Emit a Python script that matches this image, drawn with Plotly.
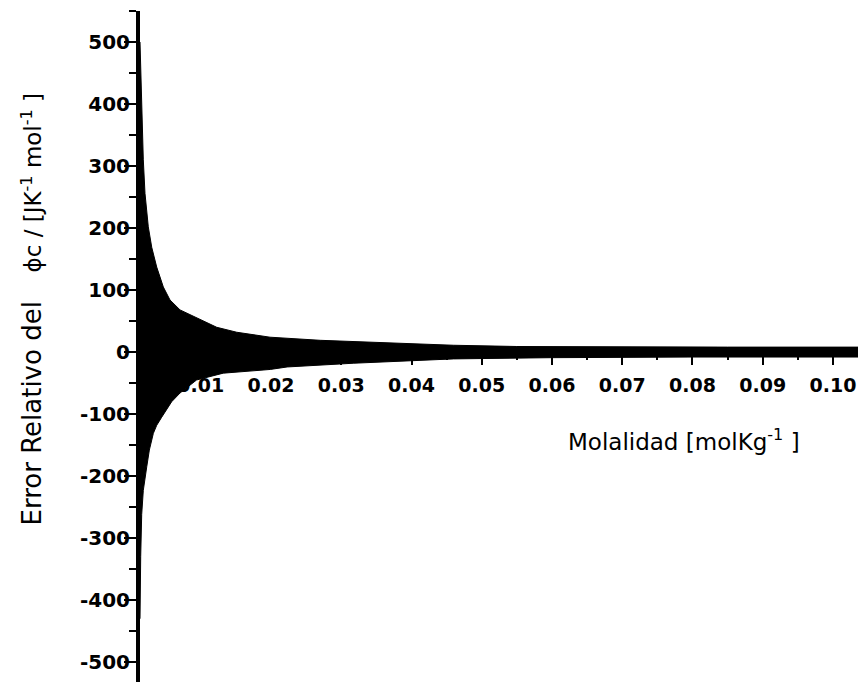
import plotly.graph_objects as go

# Upper envelope of the relative error band
upper_x = [0.00135, 0.00150, 0.00159, 0.00170, 0.00182, 0.00206, 0.00253, 0.00302, 0.00373, 0.00467,
           0.00562, 0.00705, 0.00942, 0.01227, 0.01512, 0.01986, 0.0270, 0.0365, 0.0460, 0.0550,
           0.0700, 0.0850, 0.1050]
upper_y = [500, 440, 400, 350, 310, 256, 202, 169, 137, 105,
           84, 68, 55, 40, 32, 24, 19, 14.5, 11, 9,
           8, 8, 8]

# Lower envelope
lower_x = [0.00135, 0.00145, 0.00159, 0.00182, 0.00231, 0.00268, 0.00325, 0.00373, 0.00444, 0.00586,
           0.00705, 0.0094, 0.0132, 0.0199, 0.0223, 0.0317, 0.0460, 0.0600, 0.0800, 0.1050]
lower_y = [-430, -330, -262, -223, -185, -158, -131, -118, -105, -80,
           -66, -45, -34, -28, -24, -18, -11, -9, -8, -8]

x_tick_vals = [0.01, 0.02, 0.03, 0.04, 0.05, 0.06, 0.07, 0.08, 0.09, 0.10]
x_tick_text = ["0.01", "0.02", "0.03", "0.04", "0.05", "0.06", "0.07", "0.08", "0.09", "0.10"]
y_tick_vals = [-500, -400, -300, -200, -100, 0, 100, 200, 300, 400, 500]
y_tick_text = ["-500", "-400", "-300", "-200", "-100", "0", "100", "200", "300", "400", "500"]

poly_x = upper_x + lower_x[::-1]
poly_y = upper_y + lower_y[::-1]

FONT = "DejaVu Sans"
W, H = 858, 674          # page adds an 8px body margin
L, T = 132, 3
PW, PH = W - L, H - T

fig = go.Figure()
fig.add_trace(go.Scatter(
    x=poly_x, y=poly_y, mode="lines", fill="toself",
    fillcolor="black", line=dict(color="black", width=1),
    hoverinfo="skip", showlegend=False,
))

Y0, Y1 = -532, 550
fig.update_layout(
    width=W, height=H,
    margin=dict(l=L, r=0, t=T, b=0, pad=0),
    paper_bgcolor="white", plot_bgcolor="white",
    showlegend=False,
    xaxis=dict(
        range=[0.00135, 0.1047],
        anchor="free", position=(0 - Y0) / (Y1 - Y0),
        showline=True, linecolor="black", linewidth=2,
        showgrid=False, zeroline=False,
        ticks="outside", ticklen=12, tickwidth=2, tickcolor="black",
        tickvals=x_tick_vals, ticktext=x_tick_text,
        minor=dict(dtick=0.005, tick0=0, ticks="outside", ticklen=7, tickwidth=2, tickcolor="black"),
        tickfont=dict(family=FONT, size=19, color="black", weight="bold"),
        ticklabelstandoff=4,
        layer="below traces",
    ),
    yaxis=dict(
        range=[Y0, Y1],
        showline=True, linecolor="black", linewidth=4,
        showgrid=False, zeroline=False,
        ticks="outside", ticklen=12, tickwidth=2, tickcolor="black",
        tickvals=y_tick_vals, ticktext=y_tick_text,
        minor=dict(dtick=50, tick0=0, ticks="outside", ticklen=7, tickwidth=2, tickcolor="black"),
        tickfont=dict(family=FONT, size=20, color="black", weight="bold"),
        ticklabelstandoff=-10,
    ),
)

sp = "\u00a0"
fig.add_annotation(
    text="Error Relativo del",
    xref="paper", yref="paper",
    x=(23 - L) / PW, y=(H - 405.5) / PH,
    xanchor="center", yanchor="middle", textangle=-90,
    showarrow=False, font=dict(family=FONT, size=26, color="black"),
)
fig.add_annotation(
    text="ϕc / [JK<sup>-1</sup>" + sp + "mol<sup>-1</sup>" + sp + "]",
    xref="paper", yref="paper",
    x=(23 - L) / PW, y=(H - 174.5) / PH,
    xanchor="center", yanchor="middle", textangle=-90,
    showarrow=False, font=dict(family=FONT, size=23, color="black"),
)
fig.add_annotation(
    text="Molalidad [molKg<sup>-1</sup>" + sp + "]",
    xref="paper", yref="paper",
    x=(558 - L) / PW, y=(H - 432) / PH,
    xanchor="left", yanchor="middle",
    showarrow=False, font=dict(family=FONT, size=23, color="black"),
)

fig.write_html("out.html")
